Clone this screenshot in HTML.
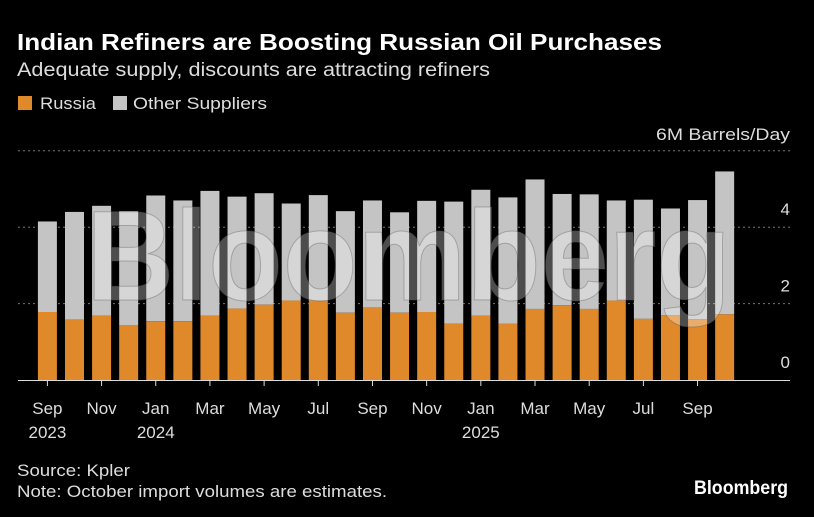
<!DOCTYPE html>
<html><head><meta charset="utf-8"><style>
body{margin:0;background:#000;width:814px;height:517px;overflow:hidden;font-family:"Liberation Sans",sans-serif;color:#fff}
svg{position:absolute;left:0;top:0}
</style></head><body>
<svg width="814" height="517">
<text x="17" y="50" font-size="23" font-weight="bold" fill="#fff" textLength="645" lengthAdjust="spacingAndGlyphs">Indian Refiners are Boosting Russian Oil Purchases</text>
<text x="17" y="76" font-size="19" fill="#ddd" textLength="473" lengthAdjust="spacingAndGlyphs">Adequate supply, discounts are attracting refiners</text>
<g>
<rect x="18" y="96" width="14" height="14" fill="#e0892a"/>
<text x="40" y="109" font-size="17" fill="#ddd" textLength="56" lengthAdjust="spacingAndGlyphs">Russia</text>
<rect x="113" y="96" width="14" height="14" fill="#c4c4c4"/>
<text x="133" y="109" font-size="17" fill="#ddd" textLength="134" lengthAdjust="spacingAndGlyphs">Other Suppliers</text>
</g>
<text x="790" y="140" font-size="17" fill="#ddd" text-anchor="end" textLength="134" lengthAdjust="spacingAndGlyphs">6M Barrels/Day</text>
<g id="grid"></g>
<g id="bars"></g>
<text x="86" y="300" font-size="128" font-weight="bold" fill="rgba(255,255,255,0.3)" stroke="rgba(80,80,80,0.35)" stroke-width="1" textLength="645" lengthAdjust="spacingAndGlyphs">Bloomberg</text>
<g id="xaxis"></g>
<text x="17" y="476" font-size="17" fill="#ddd" textLength="113" lengthAdjust="spacingAndGlyphs">Source: Kpler</text>
<text x="17" y="497" font-size="17" fill="#ddd" textLength="370" lengthAdjust="spacingAndGlyphs">Note: October import volumes are estimates.</text>
<text x="788" y="494" font-size="19" font-weight="bold" fill="#fff" text-anchor="end" textLength="94" lengthAdjust="spacingAndGlyphs">Bloomberg</text>
</svg>
<script>
const months=["Sep","Oct","Nov","Dec","Jan","Feb","Mar","Apr","May","Jun","Jul","Aug","Sep","Oct","Nov","Dec","Jan","Feb","Mar","Apr","May","Jun","Jul","Aug","Sep","Oct"];
const years=["2023","","","","2024","","","","","","","","","","","","2025","","","","","","","","",""];
const russia=[1.78,1.58,1.68,1.44,1.54,1.54,1.68,1.87,1.97,2.08,2.08,1.76,1.90,1.76,1.78,1.48,1.68,1.47,1.86,1.96,1.86,2.08,1.60,1.70,1.59,1.72];
const total=[4.15,4.40,4.56,4.42,4.83,4.70,4.95,4.80,4.89,4.62,4.84,4.42,4.70,4.39,4.69,4.67,4.98,4.78,5.25,4.87,4.86,4.70,4.72,4.49,4.71,5.46];
const yTicks=[0,2,4];
const NS="http://www.w3.org/2000/svg";
const y=v=>380-v*38.2;
const x=i=>47.4+i*27.09;
function mk(t,a,p){const e=document.createElementNS(NS,t);for(const k in a)e.setAttribute(k,a[k]);p.appendChild(e);return e;}
const grid=document.getElementById('grid'),bars=document.getElementById('bars'),xa=document.getElementById('xaxis');
[2,4,6].forEach(v=>{const l=mk('line',{x1:18,x2:790,y1:y(v),y2:y(v),stroke:'#777','stroke-dasharray':'2,3'},grid);

});
yTicks.forEach(v=>{const t=mk('text',{x:790,y:y(v)-12,'font-size':17,fill:'#ddd','text-anchor':'end'},grid);t.textContent=v;

});
total.forEach((tv,i)=>{
const o=mk('rect',{x:x(i)-9.5,y:y(tv),width:19,height:y(russia[i])-y(tv),fill:'#c4c4c4'},bars);


const r=mk('rect',{x:x(i)-9.5,y:y(russia[i]),width:19,height:380-y(russia[i]),fill:'#e0892a'},bars);


});
const ax=mk('line',{x1:18,x2:790,y1:380.5,y2:380.5,stroke:'#ddd','stroke-width':1},xa);


months.forEach((m,i)=>{if(i%2)return;
const tk=mk('line',{x1:x(i),x2:x(i),y1:381,y2:386,stroke:'#ddd'},xa);


const t=mk('text',{x:x(i),y:414,'font-size':17,fill:'#ddd','text-anchor':'middle'},xa);t.textContent=m;


if(years[i]){const yt=mk('text',{x:x(i),y:438,'font-size':17,fill:'#ddd','text-anchor':'middle'},xa);yt.textContent=years[i];

}
});
</script>
</body></html>
